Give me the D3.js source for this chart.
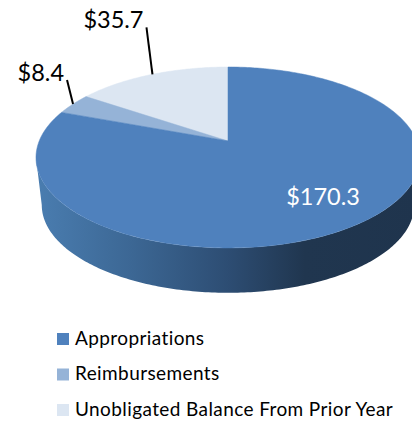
<!DOCTYPE html>
<meta charset="utf-8">
<style>
  html, body { margin: 0; background: #fff; overflow: hidden; }
  svg { display: block; font-family: Lato, 'Open Sans', sans-serif; }
</style>
<script src="https://d3js.org/d3.v7.min.js"></script>
<body>
<svg id="chart" width="412" height="421"></svg>
<script>

// values as printed on the chart, in drawing order from 12 o'clock going counter clockwise
var categories = ["Unobligated Balance From Prior Year", "Reimbursements", "Appropriations"];
var amounts = [35.7, 8.4, 170.3];
var amountLabels = ["$35.7", "$8.4", "$170.3"];
var legendOrder = ["Appropriations", "Reimbursements", "Unobligated Balance From Prior Year"];

var width = 412,
    height = 421;

var svg = d3.select("#chart");

var color = d3.scaleOrdinal()
  .domain(legendOrder)
  .range(["#4f81bd", "#95b3d7", "#dce6f2"]);

// Perspective of the tilted disc. Unit circle -> page, the apex sits above the ellipse middle
var cx = 228, apexY = 141, radius = 188.8, lift = 61.8, persp = -0.182;
function project(a) {
  // small correction, the 3D rotation squeezes the angles near the far side
  var b = a - 0.08 * Math.sin(a);
  var u = Math.sin(b), v = -Math.cos(b), w = 1 + persp * v;
  return [cx + radius * u / w, (apexY + lift * v) / w];
}

// negative angles so the first slices run to the left of 12 o'clock
var pie = d3.pie().sort(null).startAngle(0).endAngle(-2 * Math.PI);
var arcs = pie(amounts);

var line = d3.line();

function slicePath(d) {
  var n = Math.max(2, Math.ceil(Math.abs(d.endAngle - d.startAngle) * 60));
  var pts = d3.range(n + 1).map(function(i) {
    return project(d.startAngle + (d.endAngle - d.startAngle) * i / n);
  });
  return line([[cx, apexY]].concat(pts)) + "Z";
}

function midPoint(d) {
  return project((d.startAngle + d.endAngle) / 2);
}

// Side wall, lower half of the disc only. Top ellipse and the narrower bottom ellipse
var wallDepth = 47.5, wallShrink = 0.97, wallCy = 157.5;
var wallAngles = d3.range(0, 181).map(function(i) { return Math.PI / 2 + Math.PI * i / 180; });
function wallTop(a) { return [cx + 192 * Math.sin(a), wallCy - 90.5 * Math.cos(a)]; }
function wallBottom(a) {
  return [cx + 192 * wallShrink * Math.sin(a), wallCy + wallDepth - 90.5 * wallShrink * Math.cos(a)];
}

var defs = svg.append("defs");
var wallGrad = defs.append("linearGradient")
  .attr("id", "wallGrad")
  .attr("gradientUnits", "userSpaceOnUse")
  .attr("x1", 36).attr("x2", 420).attr("y1", 0).attr("y2", 0);
wallGrad.selectAll("stop")
  .data([[0, "#4a7db0"], [0.25, "#3c6794"], [0.5, "#2d4d73"], [0.7, "#20364f"], [1, "#1f344d"]])
  .enter().append("stop")
  .attr("offset", function(d) { return d[0]; })
  .attr("stop-color", function(d) { return d[1]; });

svg.append("path")
  .attr("d", line(wallAngles.map(wallTop).concat(wallAngles.slice().reverse().map(wallBottom))) + "Z")
  .attr("fill", "url(#wallGrad)");

// Top surface
svg.append("g")
  .selectAll("path")
  .data(arcs)
  .enter()
  .append("path")
    .attr("d", slicePath)
    .attr("fill", function(d, i) { return color(categories[i]); })
    .attr("stroke", function(d, i) { return color(categories[i]); })
    .attr("stroke-width", 0.5);

// Labels: two with leaders, the big one sits on the slice
var leaderOffset = [[-6, -47], [-6, -24]];
var labelOffset = [[-9, -52], [-9, -29]];

svg.append("g")
  .selectAll("line")
  .data(arcs.slice(0, 2))
  .enter()
  .append("line")
    .attr("x1", function(d) { return midPoint(d)[0]; })
    .attr("y1", function(d) { return midPoint(d)[1]; })
    .attr("x2", function(d, i) { return midPoint(d)[0] + leaderOffset[i][0]; })
    .attr("y2", function(d, i) { return midPoint(d)[1] + leaderOffset[i][1]; })
    .attr("stroke", "#000")
    .attr("stroke-width", 2);

svg.append("g")
  .selectAll("text")
  .data(arcs.slice(0, 2))
  .enter()
  .append("text")
    .attr("x", function(d, i) { return midPoint(d)[0] + labelOffset[i][0]; })
    .attr("y", function(d, i) { return midPoint(d)[1] + labelOffset[i][1]; })
    .attr("text-anchor", "end")
    .attr("dominant-baseline", "middle")
    .attr("font-size", 23.5)
    .attr("fill", "#000")
    .text(function(d, i) { return amountLabels[i]; });

svg.append("text")
  .attr("x", 323)
  .attr("y", 199)
  .attr("text-anchor", "middle")
  .attr("dominant-baseline", "middle")
  .attr("font-size", 23.5)
  .attr("fill", "#fff")
  .text(amountLabels[2]);

// Legend
var legendY = d3.scalePoint()
  .domain(legendOrder)
  .range([339, 410]);

var legend = svg.append("g")
  .selectAll("g")
  .data(legendOrder)
  .enter()
  .append("g")
    .attr("transform", function(d) { return "translate(57," + legendY(d) + ")"; });

legend.append("rect")
  .attr("y", -6)
  .attr("width", 12)
  .attr("height", 12)
  .attr("fill", function(d) { return color(d); });

legend.append("text")
  .attr("x", 18)
  .attr("y", 1)
  .attr("dominant-baseline", "middle")
  .attr("font-size", 19)
  .attr("letter-spacing", 0.4)
  .attr("fill", "#000")
  .text(function(d) { return d; });

</script>
</body>
